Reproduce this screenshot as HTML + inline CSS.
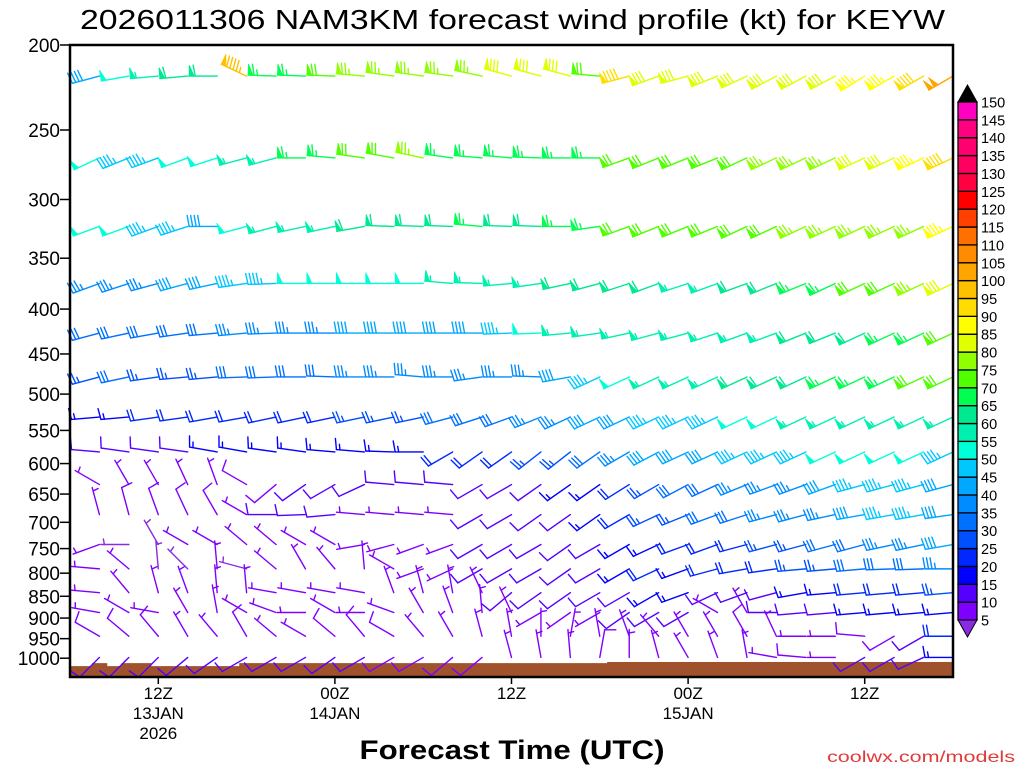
<!DOCTYPE html>
<html><head><meta charset="utf-8"><style>
html,body{margin:0;padding:0;background:#fff;}
svg{display:block;font-family:"Liberation Sans",sans-serif;}
</style></head><body>
<svg id="chart" width="1024" height="768" viewBox="0 0 1024 768" xmlns="http://www.w3.org/2000/svg">
<rect x="0" y="0" width="1024" height="768" fill="#fff"/>
<text x="80" y="29" font-size="28" textLength="865" lengthAdjust="spacingAndGlyphs" fill="#000">2026011306 NAM3KM forecast wind profile (kt) for KEYW</text>
<g id="terrain"></g>
<g id="barbs"></g>
<rect x="70" y="45" width="883" height="632" fill="none" stroke="#000" stroke-width="2.5"/>
<g id="yaxis"></g>
<g id="xaxis"></g>
<text x="512" y="759" font-size="27" font-weight="bold" text-anchor="middle" textLength="305" lengthAdjust="spacingAndGlyphs">Forecast Time (UTC)</text>
<text x="1015" y="762" font-size="16" text-anchor="end" fill="#e03a3a" textLength="188" lengthAdjust="spacingAndGlyphs">coolwx.com/models</text>
<g id="cbar"></g>
</svg>
<script>
const levels=[217,269,322,374,426,478,531,582,634,686,742,791,842,887,944,998];
const hours=[2,4,6,8,10,12,14,16,18,20,22,24,26,28,30,32,34,36,38,40,42,44,46,48,50,52,54,56,58,60];
const yTicks=[200,250,300,350,400,450,500,550,600,650,700,750,800,850,900,950,1000];
const xTickHours=[6,18,30,42,54];
const xTickLine1=["12Z","00Z","12Z","00Z","12Z"];
const xTickLine2=["13JAN","14JAN","","15JAN",""];
const xTickLine3=["2026","","","",""];
const cbarLabels=[5,10,15,20,25,30,35,40,45,50,55,60,65,70,75,80,85,90,95,100,105,110,115,120,125,130,135,140,145,150];
const cbarColors=["#8000ff","#5500ff","#0000ff","#0028ff","#0050ff","#0070ff","#008cff","#00a8ff","#00c8ff","#00ffd8","#00f0b0","#00e890","#00ff50","#50ff00","#90ff00","#e0ff00","#ffff00","#ffdd00","#ffc000","#ffa500","#ff8c00","#ff7000","#ff4000","#ff0000","#ff0040","#ff0060","#ff0070","#ff0080","#ff00c0","#ff00ff"];
const psfc=[1021,1021,1013,1021,1013,1013,1021,1021,1021,1021,1021,1021,1013,1013,1013,1013,1013,1013,1013,1013,1013,1013,1013,1013,1013,1013,1013,1013,1013,1013,1013,1013,1013,1013,1013,1013,1013,1010,1010,1010,1010,1010,1010,1010,1010,1010,1010,1010,1010,1010,1010,1010,1010,1010,1010,1010,1010,1010,1010,1010,1010];
const spd0=[40,50,55,60,60,95,65,65,70,75,75,75,75,75,80,80,80,70,90,80,80,80,80,80,80,80,85,85,90,100];
const dir0=[255,260,265,265,270,295,272,272,272,275,278,278,278,282,285,285,285,275,255,250,255,248,245,242,242,242,238,240,240,240];
const spd1=[50,45,45,50,50,55,55,65,65,70,70,75,65,65,65,65,65,65,70,70,70,70,70,75,75,75,80,80,85,90];
const dir1=[245,248,250,250,252,255,255,270,275,278,280,282,278,275,275,272,270,270,250,248,248,248,245,245,245,245,245,245,245,245];
const spd2=[50,50,45,45,40,50,55,55,55,60,60,60,60,65,60,60,65,65,70,70,70,70,70,70,75,75,75,75,75,85];
const dir2=[250,250,250,252,270,255,255,258,258,260,272,272,272,275,272,272,270,262,250,248,248,248,245,245,245,245,245,245,245,245];
const spd3=[35,35,35,40,40,45,45,50,50,50,50,50,55,55,55,55,60,60,60,60,55,55,60,60,65,65,70,70,75,80];
const dir3=[250,252,255,255,258,262,268,270,270,270,270,270,275,272,265,262,258,255,252,250,252,250,250,248,248,245,245,245,245,245];
const spd4=[30,30,30,30,30,35,35,35,35,40,40,40,40,40,45,50,55,55,55,55,55,55,55,55,60,60,60,65,65,70];
const dir4=[255,258,260,262,265,265,268,270,270,270,270,270,270,270,268,268,265,262,258,255,255,252,250,250,248,248,245,245,245,245];
const spd5=[25,30,25,25,25,30,30,30,30,35,35,35,35,35,35,35,40,45,50,55,55,55,60,60,60,65,65,65,70,70];
const dir5=[255,258,262,265,265,268,268,270,272,270,270,275,270,262,270,272,260,245,245,245,245,245,245,245,245,245,245,245,245,245];
const spd6=[15,15,20,20,20,20,20,20,20,25,25,25,30,30,30,35,35,40,40,45,45,45,50,50,55,55,55,55,55,55];
const dir6=[265,265,262,262,260,260,258,258,258,258,258,258,255,252,250,248,245,245,245,245,245,245,245,245,245,245,245,245,245,245];
const spd7=[10,10,10,10,15,15,15,15,15,15,15,15,20,20,20,25,25,30,35,40,40,40,45,45,45,50,50,50,50,45];
const dir7=[275,278,278,278,280,280,278,278,275,275,272,270,240,235,235,232,232,235,240,242,245,245,245,245,245,245,245,245,245,245];
const spd8=[5,5,5,5,5,8,8,10,10,10,10,10,10,10,10,10,15,15,20,25,30,30,35,35,35,40,45,45,45,40];
const dir8=[300,330,330,335,340,300,230,235,240,245,275,275,275,240,240,235,235,235,238,240,242,245,248,250,250,250,255,255,255,255];
const spd9=[5,8,8,8,8,5,10,10,10,5,5,5,5,10,10,10,10,15,20,25,25,30,30,35,35,35,40,45,45,40];
const dir9=[345,345,340,335,330,300,270,268,265,275,275,275,275,240,240,235,235,235,240,245,248,250,252,255,255,258,260,260,260,262];
const spd10=[5,3,3,5,5,5,5,5,5,5,5,5,5,10,10,10,10,10,15,15,20,20,20,25,25,30,30,35,35,40];
const dir10=[250,270,330,300,300,310,310,300,300,260,255,250,250,240,240,240,235,240,240,245,250,250,255,255,255,255,255,258,258,260];
const spd11=[5,5,3,3,5,3,5,5,5,5,5,5,5,10,10,10,10,10,15,20,15,20,20,20,25,25,30,30,30,35];
const dir11=[275,310,355,315,355,285,310,330,320,355,300,250,245,240,240,240,235,240,240,245,250,255,260,262,265,265,265,268,268,270];
const spd12=[5,5,5,5,5,5,5,5,5,5,5,5,5,5,10,10,10,10,10,15,15,10,10,10,15,15,20,20,20,25];
const dir12=[275,320,345,340,355,355,280,280,280,280,340,345,350,335,230,235,235,240,240,240,250,245,250,255,260,265,265,265,265,265];
const spd13=[5,5,5,5,5,5,5,5,5,5,5,5,5,5,5,5,5,5,10,10,10,5,5,10,10,10,15,15,15,15];
const dir13=[280,300,280,330,350,300,290,270,300,270,290,330,340,355,335,240,235,240,235,240,240,300,330,270,265,265,265,265,265,265];
const spd14=[8,8,8,5,5,8,5,5,8,8,8,5,5,5,5,5,5,5,5,5,5,5,8,5,5,5,8,8,10,20];
const dir14=[300,310,320,330,320,330,310,300,310,320,300,320,330,345,350,0,10,350,340,320,330,330,330,335,270,270,275,240,240,270];
const spd15=[10,10,10,12,10,10,10,10,10,10,8,8,8,8,5,5,5,8,5,5,5,5,5,5,8,5,10,10,10,15];
const dir15=[225,225,225,230,235,240,240,240,235,240,240,240,230,230,345,350,355,10,0,345,330,340,350,280,275,270,240,240,245,270];
const spdRows=[spd0,spd1,spd2,spd3,spd4,spd5,spd6,spd7,spd8,spd9,spd10,spd11,spd12,spd13,spd14,spd15];
const dirRows=[dir0,dir1,dir2,dir3,dir4,dir5,dir6,dir7,dir8,dir9,dir10,dir11,dir12,dir13,dir14,dir15];

const NS="http://www.w3.org/2000/svg";
const X0=70,X1=953,Y0=45,Y1=677,HMAX=60;
function xScale(h){return X0+(X1-X0)*h/HMAX;}
function yScale(p){return Y0+381*Math.log(p/200);}
function colorFor(s){if(s<5)return "#8a2be2";let i=Math.floor((s-5)/5);if(i>29)i=29;return cbarColors[i];}
function mk(tag,attrs,parent){const e=document.createElementNS(NS,tag);for(const k in attrs)e.setAttribute(k,attrs[k]);parent.appendChild(e);return e;}

// terrain
const terr=document.getElementById('terrain');
psfc.forEach((p,h)=>{
  const xa=Math.max(X0,xScale(h-0.5)),xb=Math.min(X1,xScale(h+0.5));
  const yt=yScale(p);
  const r=mk('rect',{x:xa,y:yt,width:xb-xa+0.5,height:Y1-yt,fill:'#a0522d'},terr);
  
  
});

// barbs
const bg=document.getElementById('barbs');
levels.forEach((p,li)=>{
  hours.forEach((h,ci)=>{
    const s=spdRows[li][ci],d=dirRows[li][ci]*Math.PI/180;
    const sx=xScale(h),sy=yScale(p);
    const ux=Math.sin(d),uy=-Math.cos(d);
    const fx=-uy,fy=ux;
    const L=28,F=11,c=colorFor(s);
    const g=mk('g',{stroke:c,fill:c,'stroke-width':1.4,'stroke-linecap':'round'},bg);
    
    
    const tx=sx+ux*L,ty=sy+uy*L;
    mk('line',{x1:sx,y1:sy,x2:tx,y2:ty},g);
    let r=Math.round(s/5)*5;
    let pos=0;
    while(r>=50){
      const bx=tx-ux*pos,by=ty-uy*pos;
      const ex=bx-ux*5,ey=by-uy*5;
      mk('polygon',{points:`${bx},${by} ${bx+fx*F},${by+fy*F} ${ex},${ey}`,'stroke-width':0.8},g);
      pos+=6;r-=50;
    }
    while(r>=10){
      const bx=tx-ux*pos,by=ty-uy*pos;
      mk('line',{x1:bx,y1:by,x2:bx+fx*F+ux*2,y2:by+fy*F+uy*2},g);
      pos+=3.5;r-=10;
    }
    if(r>=5){
      if(pos===0)pos=3.5;
      const bx=tx-ux*pos,by=ty-uy*pos;
      mk('line',{x1:bx,y1:by,x2:bx+fx*5.5+ux*1,y2:by+fy*5.5+uy*1},g);
    }
  });
});

// y axis
const ya=document.getElementById('yaxis');
yTicks.forEach(p=>{
  const y=yScale(p);
  const l=mk('line',{x1:60,y1:y,x2:70,y2:y,stroke:'#000','stroke-width':1.5},ya);
  
  
  const t=mk('text',{x:60,y:y+7,'font-size':19,'text-anchor':'end',fill:'#000'},ya);
  t.textContent=p;
  
  
});

// x axis
const xa=document.getElementById('xaxis');
xTickHours.forEach((h,i)=>{
  const x=xScale(h);
  const l=mk('line',{x1:x,y1:Y1,x2:x,y2:Y1+7,stroke:'#000','stroke-width':1.5},xa);
  
  
  [xTickLine1[i],xTickLine2[i],xTickLine3[i]].forEach((s,j)=>{
    if(!s)return;
    const t=mk('text',{x:x,y:699+j*20,'font-size':17,'text-anchor':'middle',fill:'#000'},xa);
    t.textContent=s;
    
    
  });
});

// colorbar
const cb=document.getElementById('cbar');
const CX=958,CW=19,CT=102,CB=620,BH=(CB-CT)/29;
for(let i=0;i<29;i++){
  const y=CB-(i+1)*BH;
  const r=mk('rect',{x:CX,y:y,width:CW,height:BH,fill:cbarColors[i],stroke:'#000','stroke-width':1.3},cb);
  
  
}
const tt=mk('polygon',{points:`${CX},${CT} ${CX+CW/2},${CT-17} ${CX+CW},${CT}`,fill:'#000',stroke:'#000'},cb);


const bt=mk('polygon',{points:`${CX},${CB} ${CX+CW/2},${CB+17} ${CX+CW},${CB}`,fill:'#8a2be2',stroke:'#000'},cb);


cbarLabels.forEach((v,i)=>{
  const y=CB-i*BH;
  const t=mk('text',{x:981,y:y+5.5,'font-size':14.5,fill:'#000'},cb);
  t.textContent=v;
  
  
});
</script>
</body></html>
